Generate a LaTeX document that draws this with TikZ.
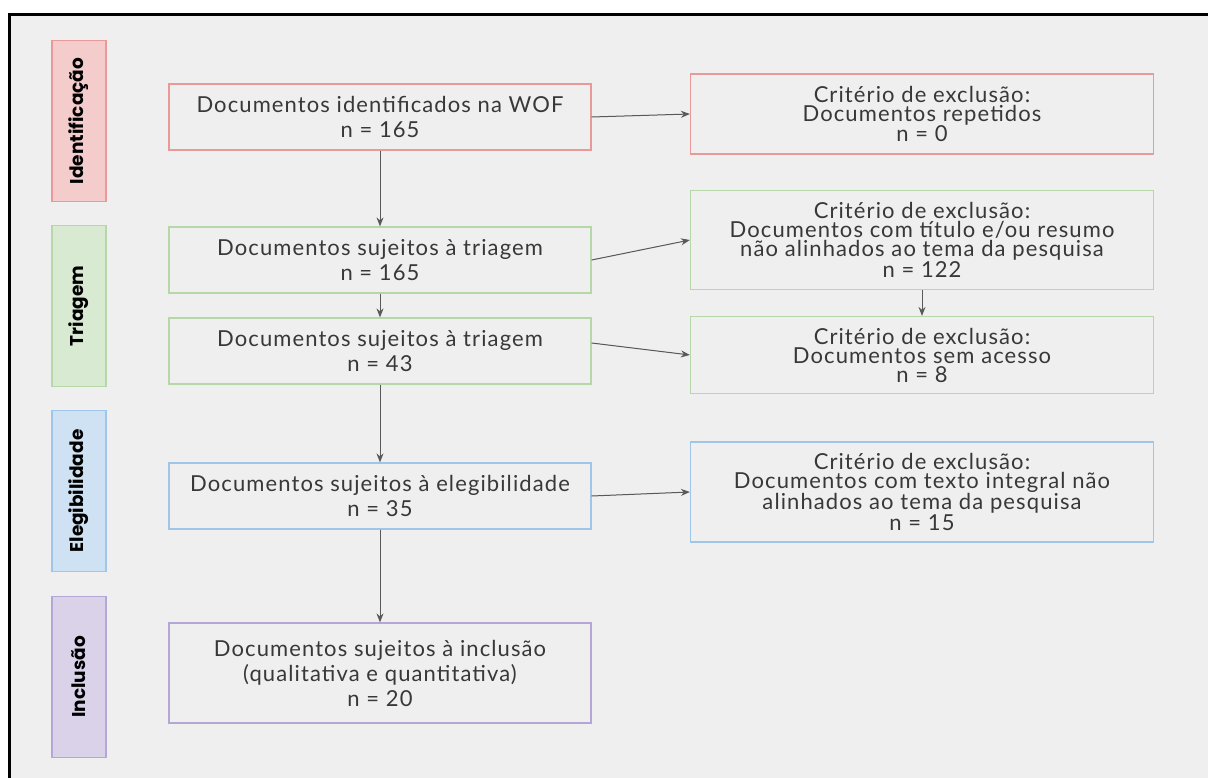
\documentclass[tikz,border=0pt]{standalone}
\usepackage{fontspec}
\setmainfont{Lato}[LetterSpace=5]
\newfontfamily\phasefont{Poppins}
\usetikzlibrary{arrows.meta}

\definecolor{bggray}{HTML}{EFEFEF}
\definecolor{txtgray}{HTML}{383838}
\definecolor{arrgray}{HTML}{595959}
\definecolor{redline}{HTML}{EA9999}
\definecolor{redfill}{HTML}{F4CCCC}
\definecolor{greenline}{HTML}{B6D7A8}
\definecolor{greenfill}{HTML}{D9EAD3}
\definecolor{blueline}{HTML}{9FC5E8}
\definecolor{bluefill}{HTML}{CFE2F3}
\definecolor{purpleline}{HTML}{B4A7D6}
\definecolor{purplefill}{HTML}{D9D2E9}

\begin{document}
\begin{tikzpicture}[
        x=1pt, y=-1pt,
        phase/.style={rectangle, draw=#1line, fill=#1fill, line width=1.2pt, rotate=90, minimum width=161pt, minimum height=54pt, font=\phasefont\bfseries\fontsize{18.5}{20}\selectfont, text=black},
        stage/.style={rectangle, draw=#1line, line width=1.2pt, minimum width=422pt, minimum height=66pt, align=center, text=txtgray, font=\fontsize{22}{25}\selectfont},
        excl/.style={rectangle, draw=#1line, line width=1.2pt, minimum width=463pt, align=center, text=txtgray, font=\fontsize{22}{19}\selectfont},
        arrow/.style={-{Stealth[length=9pt, width=7pt]}, draw=arrgray, fill=arrgray, line width=1pt}
    ]

        % Background and frame
        \useasboundingbox (0,0) rectangle (1208,778);
        \clip (0,0) rectangle (1208,778);
        \fill[white] (0,0) rectangle (1208,778);
        \draw[fill=bggray, line width=3pt] (9.5,14.5) rectangle (1220,790);

        % Phase labels
        \node[phase=red] (ph_id) at (79,121) {Identificação};
        \node[phase=green] (ph_tri) at (79,306) {Triagem};
        \node[phase=blue] (ph_eleg) at (79,491) {Elegibilidade};
        \node[phase=purple] (ph_incl) at (79,677) {Inclusão};

        % Main stages
        \node[stage=red] (st_id) at (380,117) {Documentos identificados na WOF\\n = 165};
        \node[stage=green] (st_tri) at (380,260) {Documentos sujeitos à triagem\\n = 165};
        \node[stage=green] (st_tri2) at (380,351) {Documentos sujeitos à triagem\\n = 43};
        \node[stage=blue] (st_eleg) at (380,496) {Documentos sujeitos à elegibilidade\\n = 35};
        \node[stage=purple, minimum height=100pt] (st_incl) at (380,673) {Documentos sujeitos à inclusão\\(qualitativa e quantitativa)\\n = 20};

        % Exclusion criteria
        \node[excl=red, minimum height=80pt] (ex_rep) at (922,114) {Critério de exclusão:\\Documentos repetidos\\n = 0};
        \node[excl=green, minimum height=99pt] (ex_tit) at (922,240) {Critério de exclusão:\\Documentos com título e/ou resumo\\não alinhados ao tema da pesquisa\\n = 122};
        \node[excl=green, minimum height=77pt] (ex_acc) at (922,355) {Critério de exclusão:\\Documentos sem acesso\\n = 8};
        \node[excl=blue, minimum height=100pt] (ex_int) at (922,492) {Critério de exclusão:\\Documentos com texto integral não\\alinhados ao tema da pesquisa\\n = 15};

        % Flow down
        \draw[arrow] (st_id) -- (st_tri);
        \draw[arrow] (st_tri) -- (st_tri2);
        \draw[arrow] (st_tri2) -- (st_eleg);
        \draw[arrow] (st_eleg) -- (st_incl);
        \draw[arrow] (ex_tit) -- (ex_acc);

        % Exclusions
        \draw[arrow] (st_id.east) -- (ex_rep.west);
        \draw[arrow] (st_tri.east) -- (ex_tit.west);
        \draw[arrow] ([yshift=8pt]st_tri2.east) -- (ex_acc.west);
        \draw[arrow] (st_eleg.east) -- (ex_int.west);

    \end{tikzpicture}
\end{document}
